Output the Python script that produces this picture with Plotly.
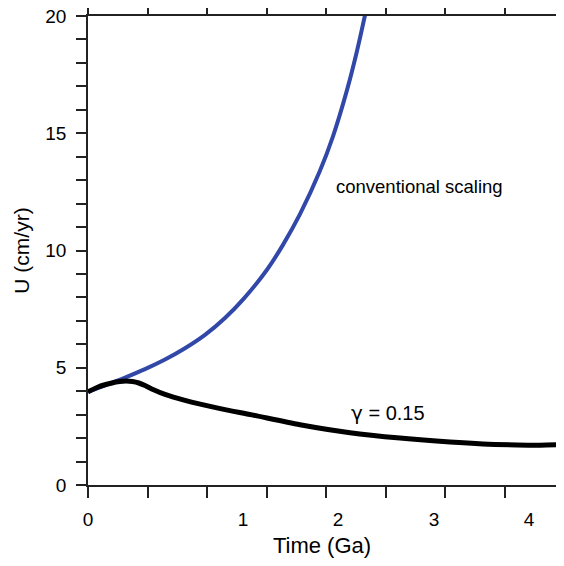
import plotly.graph_objects as go

# Conventional scaling (blue) and gamma = 0.15 (black)
t_conv = [0.0, 0.161, 0.350, 0.539, 0.728, 0.917, 1.106, 1.295, 1.475, 1.692,
          1.843, 2.004, 2.193, 2.316, 2.449, 2.543, 2.619]
u_conv = [3.97, 4.25, 4.58, 4.94, 5.35, 5.83, 6.40, 7.12, 7.96, 9.18,
          10.24, 11.55, 13.40, 14.87, 16.85, 18.51, 20.04]

t_gam = [0.0, 0.095, 0.227, 0.30, 0.36, 0.42, 0.48, 0.539, 0.62, 0.728, 0.917,
         1.229, 1.550, 2.004, 2.477, 2.949, 3.422, 3.734, 4.056, 4.273, 4.5]
u_gam = [3.97, 4.18, 4.35, 4.41, 4.43, 4.41, 4.35, 4.24, 4.06, 3.86, 3.61,
         3.28, 2.99, 2.57, 2.23, 2.00, 1.83, 1.75, 1.71, 1.70, 1.72]

# x tick labels sit at uneven places under the evenly spaced tick marks
xlabel_pos = [0.0, 1.465, 2.363, 3.271, 4.169]
xlabel_txt = ["0", "1", "2", "3", "4"]
xtick_marks = [i * 4.5 / 8 for i in range(9)]

FONT = "Liberation Sans, Arial, Helvetica, sans-serif"

fig = go.Figure()
fig.add_trace(go.Scatter(x=t_conv, y=u_conv, mode="lines",
                         line=dict(color="#3148a8", width=4, shape="spline", smoothing=0.8),
                         showlegend=False))
fig.add_trace(go.Scatter(x=t_gam, y=u_gam, mode="lines",
                         line=dict(color="black", width=5, shape="spline", smoothing=0.8),
                         showlegend=False))

fig.add_annotation(x=2.33, y=12.75, text="conventional scaling", showarrow=False,
                   xanchor="left", yanchor="middle", font=dict(size=18.5, color="black"))
fig.add_annotation(x=2.47, y=3.07,
                   text="<span style='font-family:DejaVu Sans'>γ</span> = 0.15",
                   showarrow=False, xanchor="left", yanchor="middle",
                   font=dict(size=20, color="black"))

# page body adds an 8px offset all round; size the figure so the page never scrolls
fig.update_layout(
    width=548, height=550,
    margin=dict(l=80, r=0, t=8, b=73),
    paper_bgcolor="white", plot_bgcolor="white",
    font=dict(family=FONT, color="black", size=19),
)
fig.update_xaxes(
    range=[0, 4.5 * 468 / 476], showgrid=False, zeroline=False, automargin=False,
    showline=True, linecolor="#222", linewidth=1.5, mirror="ticks",
    tickmode="array", tickvals=xlabel_pos, ticktext=xlabel_txt,
    ticks="outside", ticklen=16, tickcolor="rgba(0,0,0,0)",
    tickfont=dict(size=19), ticklabeloverflow="allow",
    minor=dict(tickmode="array", tickvals=xtick_marks, ticks="outside",
               ticklen=11, tickwidth=1.5, tickcolor="#222", showgrid=False),
    title=dict(text="Time (Ga)", font=dict(size=22), standoff=19),
)
fig.update_yaxes(
    range=[0, 20], showgrid=False, zeroline=False, automargin=False,
    showline=True, linecolor="#222", linewidth=1.5,
    tickmode="linear", tick0=0, dtick=5,
    ticks="outside", ticklen=10, tickwidth=1.5, tickcolor="#222",
    tickfont=dict(size=19), ticklabelstandoff=6, ticklabeloverflow="allow",
    minor=dict(dtick=1, ticks="outside", ticklen=10, tickwidth=1.5,
               tickcolor="#222", showgrid=False),
    title=dict(text="U (cm/yr)", font=dict(size=21), standoff=10),
)

fig.write_html("out.html")
